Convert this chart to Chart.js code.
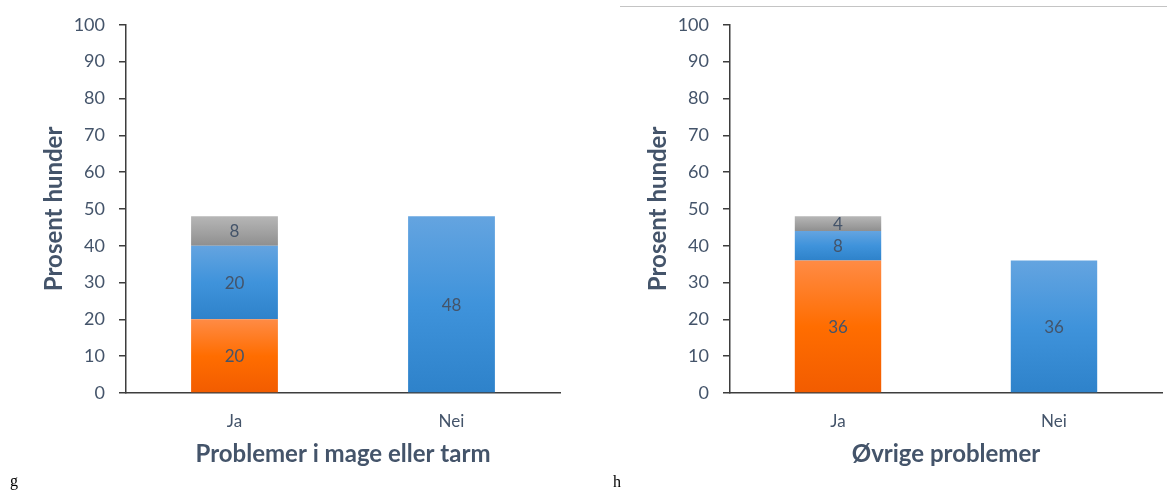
<!DOCTYPE html>
<html>
<head>
<meta charset="utf-8">
<script src="https://cdn.jsdelivr.net/npm/chart.js@4.4.1/dist/chart.umd.min.js"></script>
<style>
  html, body { margin: 0; padding: 0; background: #ffffff; }
  #wrap { position: relative; width: 1167px; height: 491px; overflow: hidden; }
  canvas { position: absolute; top: 0; }
  #c1 { left: 0; }
  #c2 { left: 604px; }
  .tag { position: absolute; font-family: "Liberation Serif", "DejaVu Serif", serif; font-size: 16px; color: #000; }
  #rule { position: absolute; left: 620px; top: 6px; width: 547px; height: 0; border-top: 1.5px solid #c4c4c4; }
</style>
</head>
<body>
<div id="wrap">
  <canvas id="c1" width="583" height="491"></canvas>
  <canvas id="c2" width="563" height="491"></canvas>
  <div id="rule"></div>
  <div class="tag" style="left:10px; top:472px;">g</div>
  <div class="tag" style="left:613px; top:473px;">h</div>
</div>
<script>
// Categories shared by both panels
const categories = ['Ja', 'Nei'];
const yTicks = [0, 10, 20, 30, 40, 50, 60, 70, 80, 90, 100];

// Panel g: stomach / bowel problems (percent of dogs)
const gOrange = [20, null];
const gBlue   = [20, 48];
const gGray   = [8, null];

// Panel h: other problems (percent of dogs)
const hOrange = [36, null];
const hBlue   = [8, 36];
const hGray   = [4, null];

const TEXT = '#44546A';
const AXIS = '#3d3d3d';
const FONT = 'Lato, "Open Sans", sans-serif';

const ORANGE = ['#ff8b45', '#ff6d00', '#f25c00'];
const BLUE   = ['#64a4e0', '#3f93db', '#2e82ca'];
const GRAY   = ['#b6b6b6', '#a3a3a3', '#8f8f8f'];

// Vertical gradient spanning only the segment a bar occupies in the stack
function segmentFill(stops, sets, dsIndex) {
  return function (ctx) {
    const chart = ctx.chart;
    const y = chart.scales && chart.scales.y;
    if (ctx.type !== 'data' || !y || !chart.chartArea) return stops[1];
    const i = ctx.dataIndex;
    let start = 0;
    for (let k = 0; k < dsIndex; k++) start += sets[k][i] || 0;
    const end = start + (sets[dsIndex][i] || 0);
    const y0 = y.getPixelForValue(end);
    const y1 = y.getPixelForValue(start);
    if (!isFinite(y0) || !isFinite(y1) || y0 === y1) return stops[1];
    const g = chart.ctx.createLinearGradient(0, y0, 0, y1);
    g.addColorStop(0, stops[0]);
    g.addColorStop(0.5, stops[1]);
    g.addColorStop(1, stops[2]);
    return g;
  };
}

// Writes each segment's value in its middle
const valueLabels = {
  id: 'valueLabels',
  afterDatasetsDraw(chart) {
    const c = chart.ctx;
    c.save();
    c.font = '17px ' + FONT;
    c.fillStyle = TEXT;
    c.textAlign = 'center';
    c.textBaseline = 'middle';
    chart.data.datasets.forEach((ds, di) => {
      const meta = chart.getDatasetMeta(di);
      meta.data.forEach((el, i) => {
        const v = ds.data[i];
        if (v === null || v === undefined || v === 0) return;
        c.fillText(String(v), el.x, (el.y + el.base) / 2 + 1);
      });
    });
    c.restore();
  }
};

function makeChart(id, title, orange, blue, gray, rightPad) {
  const sets = [orange, blue, gray];
  return new Chart(document.getElementById(id), {
    type: 'bar',
    data: {
      labels: categories,
      datasets: [
        { label: 'orange', data: orange, backgroundColor: segmentFill(ORANGE, sets, 0) },
        { label: 'blue', data: blue, backgroundColor: segmentFill(BLUE, sets, 1) },
        { label: 'gray', data: gray, backgroundColor: segmentFill(GRAY, sets, 2) }
      ]
    },
    options: {
      responsive: false,
      animation: false,
      layout: { padding: { top: 24, right: rightPad, left: 0, bottom: 0 } },
      datasets: { bar: { barPercentage: 0.4, categoryPercentage: 1.0, borderWidth: 0 } },
      plugins: { legend: { display: false }, tooltip: { enabled: false } },
      scales: {
        x: {
          stacked: true,
          grid: { display: false },
          border: { display: true, color: AXIS, width: 1.5 },
          ticks: { color: TEXT, font: { family: FONT, size: 17 }, padding: 10 },
          title: { display: true, text: title, color: TEXT, font: { family: FONT, size: 24, weight: 'bold' }, padding: { top: 0, bottom: 22 } },
          afterFit(scale) { scale.height = 98; }
        },
        y: {
          stacked: true,
          min: 0,
          max: 100,
          afterBuildTicks(scale) { scale.ticks = yTicks.map(v => ({ value: v })); },
          grid: { drawOnChartArea: false, drawTicks: true, tickLength: 7, color: AXIS, lineWidth: 1.5 },
          border: { display: true, color: AXIS, width: 1.5 },
          ticks: { color: TEXT, font: { family: FONT, size: 18 }, padding: 14 },
          title: { display: true, text: 'Prosent hunder', color: TEXT, font: { family: FONT, size: 24, weight: 'bold' }, padding: { top: 40, bottom: 0 } },
          afterFit(scale) { scale.width = 126; }
        }
      }
    },
    plugins: [valueLabels]
  });
}

makeChart('c1', 'Problemer i mage eller tarm', gOrange, gBlue, gGray, 23);
makeChart('c2', 'Øvrige problemer', hOrange, hBlue, hGray, 5);
</script>
</body>
</html>
